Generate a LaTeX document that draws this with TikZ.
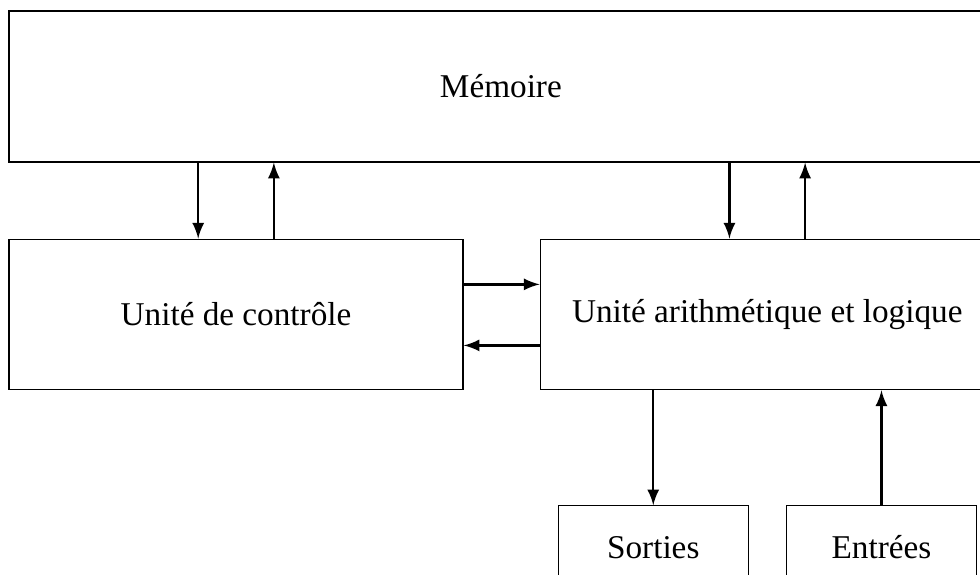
\documentclass[tikz,border=0pt]{standalone}
\usepackage{fontspec}
\setmainfont{Liberation Serif}
\usepackage{tikz}
\usetikzlibrary{positioning}
\usetikzlibrary{calc}
\tikzstyle{block} = [draw, thin, rectangle, inner sep=0pt, minimum height=1.75cm, minimum width=5.28cm, font=\fontsize{11}{13}\selectfont]
\tikzstyle{bigblock} = [block, minimum width=11.44cm, minimum height=1.756cm]
\tikzstyle{ioblock} = [block, minimum height=0.977cm, minimum width=2.21cm, text height=1.5ex, text depth=0pt]
\tikzstyle{link} = [thick, ->]

\begin{document}
\begin{tikzpicture}[>=latex]
    \useasboundingbox (-5.825,1.006) rectangle (5.572,-5.670);
    \clip (-5.825,1.006) rectangle (5.572,-5.670);

    \node [bigblock] (memoire) at (0,0) {Mémoire};
    \node [block, below right=0.884cm and 0cm of memoire.south west] (controle) {Unité de contrôle};
    \node [block, right=0.884cm of controle] (ual) {Unité arithmétique et logique};
    \node [ioblock, below right=1.337cm and 0.209cm of ual.south west] (sorties) {Sorties};
    \node [ioblock, right=0.43cm of sorties] (entrees) {Entrées};

    % memoire <-> controle
    \draw [link] ([xshift=-0.44cm]controle.north |- memoire.south) -- ([xshift=-0.44cm]controle.north);
    \draw [link] ([xshift=0.44cm]controle.north) -- ([xshift=0.44cm]controle.north |- memoire.south);
    % memoire <-> ual
    \draw [link] ([xshift=-0.44cm]ual.north |- memoire.south) -- ([xshift=-0.44cm]ual.north);
    \draw [link] ([xshift=0.44cm]ual.north) -- ([xshift=0.44cm]ual.north |- memoire.south);
    % controle <-> ual
    \draw [link] ([yshift=0.35cm]controle.east) -- ([yshift=0.35cm]ual.west);
    \draw [link] ([yshift=-0.36cm]ual.west) -- ([yshift=-0.36cm]controle.east);
    % entrees / sorties
    \draw [link] (sorties.north |- ual.south) -- (sorties.north);
    \draw [link] (entrees.north) -- (entrees.north |- ual.south);
\end{tikzpicture}
\end{document}
